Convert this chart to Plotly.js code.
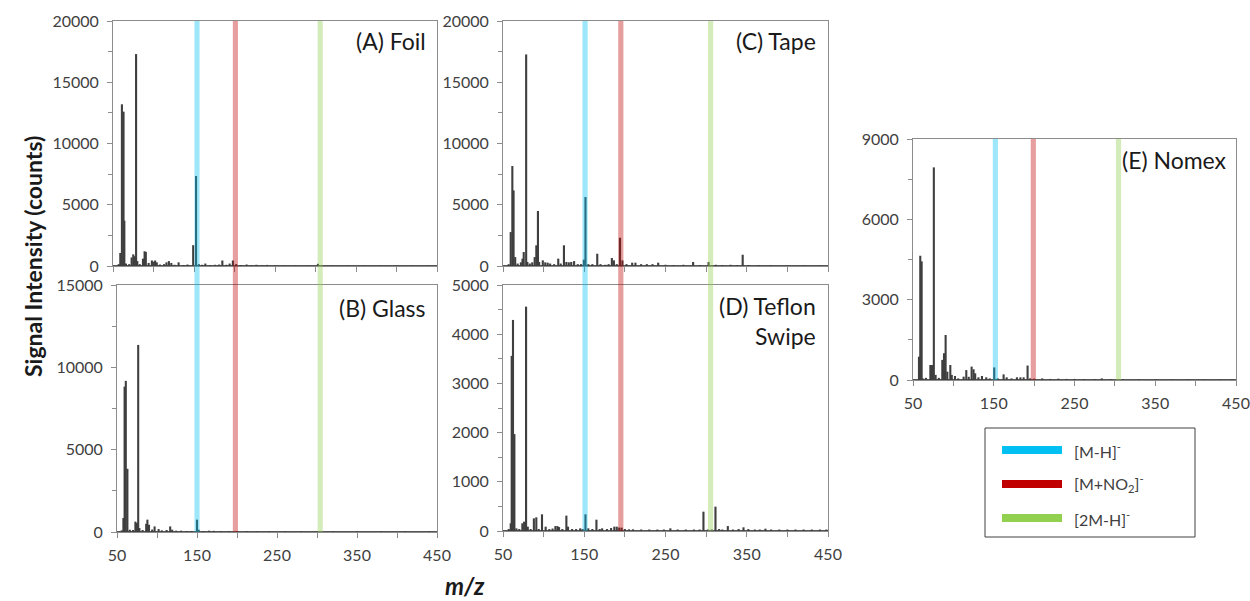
<!DOCTYPE html>
<html><head><meta charset="utf-8">
<script src="https://cdn.plot.ly/plotly-3.0.1.min.js"></script>
<style>html,body{margin:0;padding:0;background:#fff}#chart{width:1250px;height:601px}</style>
</head><body><div id="chart"></div>
<script>
// ---- Data (m/z, signal intensity in counts) ----
const mzA  = [57, 59, 61, 63, 64, 66, 70, 73, 75, 77, 78.5, 80, 83, 87, 89, 90.5, 94, 98, 100, 102, 104, 108, 113, 116, 119, 122, 126, 131, 137, 142, 149, 152.5, 156, 160, 164, 170, 176, 181, 185, 190, 194, 198, 202, 208, 215, 221, 227, 234, 240, 250, 262, 275, 290, 303, 320, 340, 360, 380, 400, 420, 440];
const intA = [150, 1060, 13200, 12600, 3700, 200, 150, 700, 950, 800, 17300, 400, 150, 600, 1200, 1150, 250, 450, 350, 450, 300, 120, 150, 300, 400, 250, 100, 300, 80, 120, 1700, 7350, 150, 100, 200, 80, 100, 120, 450, 100, 200, 450, 150, 80, 120, 60, 100, 60, 90, 50, 40, 40, 40, 180, 30, 30, 30, 30, 30, 30, 30];

const mzB  = [56, 58, 59.5, 61, 63, 66, 70, 73, 75, 76.5, 78, 82, 86.5, 88, 90, 94, 97, 102, 106, 112, 116.5, 119, 124, 130, 137, 143, 150, 152, 158, 165, 171, 180, 190, 200, 212, 225, 240, 260, 280, 300, 320, 350, 380, 410, 440];
const intB = [100, 850, 8830, 9180, 3840, 140, 120, 630, 550, 11360, 240, 120, 500, 750, 440, 150, 340, 180, 100, 120, 340, 140, 80, 80, 60, 60, 750, 140, 60, 80, 70, 50, 50, 50, 40, 30, 30, 30, 30, 30, 30, 30, 30, 30, 30];

const mzC  = [57, 59.5, 61.5, 63, 65, 68, 72, 74, 75.5, 78.5, 80, 83, 86, 89, 91, 93, 94.5, 99, 102, 105, 108, 113, 118, 121, 125, 128, 131, 134, 137.5, 142, 146, 149.5, 151.5, 155, 160, 166, 170, 176, 180, 184, 186.5, 190, 194, 197, 202, 209, 213, 220, 227, 234, 241, 250, 260, 272, 284, 292, 303, 312, 320, 330, 338, 345, 352, 365, 380, 400, 420, 440];
const intC = [150, 2770, 8160, 6170, 730, 200, 300, 600, 1140, 17270, 330, 200, 300, 730, 1690, 4490, 330, 460, 300, 270, 200, 150, 600, 200, 1690, 330, 300, 330, 400, 150, 150, 520, 5630, 150, 150, 1000, 150, 100, 150, 650, 460, 150, 2310, 460, 150, 270, 270, 150, 150, 150, 270, 100, 80, 100, 330, 80, 330, 100, 80, 100, 80, 920, 80, 60, 50, 40, 60, 40];

const mzD  = [57, 59.5, 60.7, 62.3, 64, 66.5, 70, 73.8, 76, 78.4, 80.5, 84, 88, 91, 94, 98, 102.5, 107, 111, 114.5, 117, 119, 123, 128, 130, 135, 140, 145, 148, 151.5, 155, 160, 165, 169, 172, 178, 183, 187, 190, 193, 196, 200, 205, 210, 220, 230, 240, 248, 256, 265, 275, 285, 292, 296.7, 302, 307, 311.5, 316, 320, 326.7, 333, 340, 346, 352, 360, 366, 373, 380, 390, 400, 410, 420, 430, 440, 448];
const intD = [40, 156, 3560, 4290, 1970, 54, 40, 156, 190, 4560, 88, 40, 257, 278, 40, 339, 88, 40, 50, 100, 100, 80, 40, 312, 88, 40, 40, 54, 40, 339, 54, 40, 230, 40, 54, 40, 60, 88, 88, 70, 68, 40, 34, 34, 30, 30, 30, 30, 54, 30, 30, 30, 30, 393, 30, 30, 495, 40, 30, 100, 30, 40, 75, 40, 30, 30, 47, 30, 30, 30, 30, 30, 30, 30, 30];

const mzE  = [57.4, 59, 60.7, 62, 66, 71.5, 73.5, 75.8, 78, 82, 86.3, 88.4, 90.4, 92.5, 96.2, 98, 102, 106, 112.7, 116, 119, 122.6, 125, 127, 131, 135.4, 140.7, 145, 150.6, 155, 162.2, 166, 172, 178.7, 183, 187, 191.9, 195, 200, 210, 220, 230, 240, 250, 262, 275, 283.8, 295, 310, 330, 350, 370, 390, 410, 430, 445];
const intE = [870, 4640, 4430, 60, 80, 560, 560, 7940, 190, 80, 750, 1000, 1680, 310, 560, 190, 150, 60, 125, 370, 120, 500, 400, 250, 100, 150, 100, 60, 470, 60, 210, 100, 60, 100, 100, 100, 540, 60, 50, 60, 40, 50, 40, 40, 30, 30, 60, 25, 25, 20, 20, 20, 20, 20, 20, 20];

// marker positions (m/z) of the highlighted ions, per column of panels
const ionNames = ['[M-H]<sup>-</sup>', '[M+NO<sub>2</sub>]<sup>-</sup>', '[2M-H]<sup>-</sup>'];
const ionAB = [150, 198, 304];
const ionCD = [151, 195, 305.5];
const ionE  = [152, 199, 304.5];

const panelLabels = ['(A) Foil', '(B) Glass', '(C) Tape', '(D) Teflon<br>Swipe', '(E) Nomex'];
const xTitle = '<b><i>m/z</i></b>';
const yTitle = '<b>Signal Intensity (counts)</b>';

// ---- Layout helpers ----
const W = 1250, H = 601;
const FONT = 'Lato, "Open Sans", sans-serif';
const TXT = '#404040';
const fx = p => p / W;
const fy = p => 1 - p / H;
const bandFill = ['rgba(0,191,243,0.38)', 'rgba(192,0,0,0.38)', 'rgba(146,208,80,0.40)'];
const legendCol = ['#00bff3', '#c00000', '#92d050'];

function yAxis(top, bottom, max, dtick, minor, anchor) {
  return {
    domain: [fy(bottom), fy(top)], range: [0, max], tick0: 0, dtick: dtick,
    tickformat: 'd',
    ticks: 'outside', ticklen: 5, tickcolor: '#8c8c8c',
    minor: {ticks: 'outside', ticklen: 4, dtick: minor, tickcolor: '#8c8c8c'},
    showline: true, mirror: true, linecolor: '#8c8c8c', linewidth: 1,
    showgrid: false, zeroline: true, zerolinecolor: '#555555', zerolinewidth: 2,
    anchor: anchor, ticklabelstandoff: 5,
    tickfont: {family: FONT, size: 16, color: TXT}, fixedrange: true
  };
}
function xAxis(left, right, labels, anchor) {
  return {
    domain: [fx(left), fx(right)], range: [50, 450], tick0: 50, dtick: 100,
    ticks: 'outside', ticklen: 5, tickcolor: '#8c8c8c',
    minor: {ticks: 'outside', ticklen: 5, dtick: 50, tickcolor: '#8c8c8c'},
    showline: true, mirror: true, linecolor: '#8c8c8c', linewidth: 1,
    showgrid: false, zeroline: false, anchor: anchor, showticklabels: labels,
    ticklabelstandoff: 4,
    tickfont: {family: FONT, size: 16, color: TXT}, fixedrange: true
  };
}
function bars(x, y, xa, ya) {
  return {type: 'bar', x: x, y: y, xaxis: xa, yaxis: ya, width: 2.6,
          marker: {color: '#3f3f3f', line: {width: 0}}, showlegend: false, hoverinfo: 'x+y'};
}

const data = [
  bars(mzA, intA, 'x', 'y'),
  bars(mzB, intB, 'x2', 'y2'),
  bars(mzC, intC, 'x3', 'y3'),
  bars(mzD, intD, 'x4', 'y4'),
  bars(mzE, intE, 'x5', 'y5')
];

const shapes = [];
function bands(centers, xref, top, bottom) {
  centers.forEach((c, i) => shapes.push({
    type: 'rect', xref: xref, yref: 'paper', x0: c - 3.2, x1: c + 3.2,
    y0: fy(bottom), y1: fy(top), fillcolor: bandFill[i], line: {width: 0}, layer: 'above'
  }));
}
bands(ionAB, 'x2', 21, 532);
bands(ionCD, 'x4', 21, 531);
bands(ionE, 'x5', 139, 380);

// legend box
shapes.push({type: 'rect', xref: 'paper', yref: 'paper', x0: fx(985), x1: fx(1195),
  y0: fy(537), y1: fy(428), line: {color: '#404040', width: 1}, fillcolor: 'rgba(0,0,0,0)'});
const legY = [450, 484, 518];
const annotations = [];
legY.forEach((yy, i) => {
  shapes.push({type: 'line', xref: 'paper', yref: 'paper', x0: fx(1002), x1: fx(1062),
    y0: fy(yy), y1: fy(yy), line: {color: legendCol[i], width: 8}});
  annotations.push({xref: 'paper', yref: 'paper', x: fx(1072), y: fy(yy), xanchor: 'left',
    yanchor: 'middle', text: ionNames[i], showarrow: false,
    font: {family: FONT, size: 16, color: TXT}});
});

const labPos = [[428, 41], [428, 308], [818, 41], [818, 321], [1229, 160]];
panelLabels.forEach((t, i) => annotations.push({
  xref: 'paper', yref: 'paper', x: fx(labPos[i][0]), y: fy(labPos[i][1]),
  xanchor: 'right', yanchor: 'middle', align: 'right', text: t, showarrow: false,
  font: {family: FONT, size: 23, color: '#1a1a1a'}
}));
annotations.push({xref: 'paper', yref: 'paper', x: fx(33), y: fy(257), textangle: -90,
  xanchor: 'center', yanchor: 'middle', text: yTitle, showarrow: false,
  font: {family: FONT, size: 23, color: '#1a1a1a'}});
annotations.push({xref: 'paper', yref: 'paper', x: fx(465), y: fy(585),
  xanchor: 'center', yanchor: 'middle', text: xTitle, showarrow: false,
  font: {family: FONT, size: 24, color: '#1a1a1a'}});

const layout = {
  width: W, height: H, margin: {l: 0, r: 0, t: 0, b: 0},
  paper_bgcolor: '#ffffff', plot_bgcolor: '#ffffff', barmode: 'overlay', showlegend: false,
  xaxis:  xAxis(113, 437, false, 'y'),
  yaxis:  yAxis(21, 266, 20000, 5000, 2500, 'x'),
  xaxis2: xAxis(117, 437, true, 'y2'),
  yaxis2: yAxis(285, 532, 15000, 5000, 2500, 'x2'),
  xaxis3: xAxis(503, 828, false, 'y3'),
  yaxis3: yAxis(21, 266, 20000, 5000, 2500, 'x3'),
  xaxis4: xAxis(503, 828, true, 'y4'),
  yaxis4: yAxis(285, 531, 5000, 1000, 500, 'x4'),
  xaxis5: xAxis(913, 1236, true, 'y5'),
  yaxis5: yAxis(139, 380, 9000, 3000, 1500, 'x5'),
  shapes: shapes, annotations: annotations
};
Plotly.newPlot('chart', data, layout, {displayModeBar: false, staticPlot: true});
</script>
</body></html>
